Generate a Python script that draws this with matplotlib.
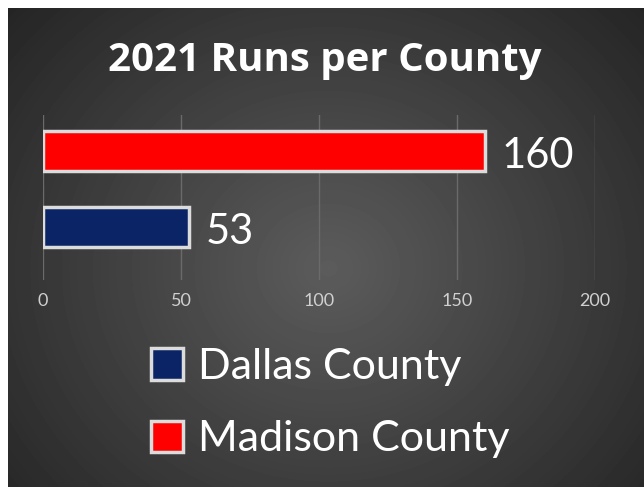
import matplotlib.pyplot as plt
import numpy as np
from matplotlib.patches import Patch

# data
counties = ['Dallas County', 'Madison County']
runs = [53, 160]
bar_colors = ['#0a2466', '#ff0000']
xticks = [0, 50, 100, 150, 200]

plt.rcParams['font.family'] = ['Lato', 'DejaVu Sans']

W, H = 644, 487
fig = plt.figure(figsize=(W / 100, H / 100), dpi=100)
fig.patch.set_facecolor('white')

# dark radial gradient background (starts 8px in from top/left)
bg = fig.add_axes([8 / W, 0, (W - 8) / W, (H - 8) / H])
yy, xx = np.mgrid[0:479, 0:636]
r = np.sqrt(((xx - 320) / 420.0) ** 2 + ((yy - 260) / 380.0) ** 2)
shade = np.clip(0.36 - 0.21 * r, 0.14, 0.36)
bg.imshow(shade, cmap='gray', vmin=0, vmax=1, aspect='auto')
bg.axis('off')

# bar axes
ax = fig.add_axes([43 / W, 1 - 280 / H, (595 - 43) / W, 165 / H])
ax.set_facecolor('none')
ypos = np.arange(len(counties))
bars = ax.barh(ypos, runs, height=0.53, color=bar_colors,
               edgecolor='#dcdcdc', linewidth=2.5, zorder=3)
for b, v in zip(bars, runs):
    ax.text(b.get_width() + 6, b.get_y() + b.get_height() / 2 - 0.07, str(v),
            color='white', fontsize=30, va='center', ha='left')

ax.set_xlim(0, 200)
ax.set_ylim(-0.70, 1.47)
ax.set_xticks(xticks)
ax.set_yticks([])
ax.grid(axis='x', color='#6a6a6a', linewidth=1, zorder=0)
ax.tick_params(axis='x', length=0, colors='#d0d0d0', labelsize=13, pad=9)
for s in ax.spines.values():
    s.set_visible(False)

fig.text(325 / W, 1 - 60 / H, '2021 Runs per County', color='white',
         fontsize=29, fontweight='bold', ha='center', va='center',
         family=['Open Sans', 'DejaVu Sans'])

handles = [Patch(facecolor=c, edgecolor='#dcdcdc', linewidth=2.5) for c in bar_colors]
fig.legend(handles, counties, loc='upper left', frameon=False,
           bbox_to_anchor=(151 / W, 1 - 348 / H), fontsize=31, borderpad=0,
           borderaxespad=0, labelcolor='white', handlelength=0.75,
           handleheight=0.75, handletextpad=0.35, labelspacing=0.8)

fig.savefig('out.png', dpi=100)
